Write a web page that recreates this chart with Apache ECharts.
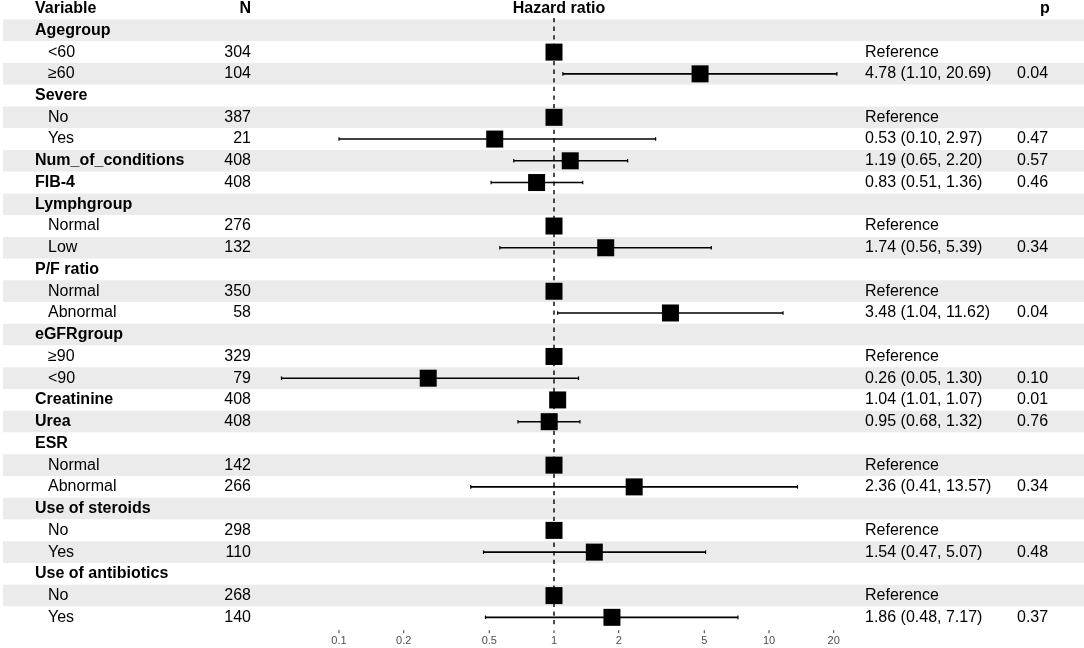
<!DOCTYPE html>
<html><head><meta charset="utf-8">
<script src="https://cdn.jsdelivr.net/npm/echarts@6/dist/echarts.min.js"></script>
<style>html,body{margin:0;padding:0;background:#fff}#chart{width:1084px;height:648px}</style>
</head><body><div id="chart"></div>
<script>
// ---------- data ----------
const headers = ['Variable', 'N', 'Hazard ratio', 'p'];
const rowLabels = ['Agegroup','<60','≥60','Severe','No','Yes','Num_of_conditions','FIB-4','Lymphgroup','Normal','Low','P/F ratio','Normal','Abnormal','eGFRgroup','≥90','<90','Creatinine','Urea','ESR','Normal','Abnormal','Use of steroids','No','Yes','Use of antibiotics','No','Yes'];
const rowIsGroup = [1,0,0,1,0,0,1,1,1,0,0,1,0,0,1,0,0,1,1,1,0,0,1,0,0,1,0,0];
const nValues = [null,304,104,null,387,21,408,408,null,276,132,null,350,58,null,329,79,408,408,null,142,266,null,298,110,null,268,140];
const hazardRatio = [null,1,4.78,null,1,0.53,1.19,0.83,null,1,1.74,null,1,3.48,null,1,0.26,1.04,0.95,null,1,2.36,null,1,1.54,null,1,1.86];
const ciLower = [null,null,1.10,null,null,0.10,0.65,0.51,null,null,0.56,null,null,1.04,null,null,0.054,1.01,0.68,null,null,0.41,null,null,0.47,null,null,0.48];
const ciUpper = [null,null,20.69,null,null,2.97,2.20,1.36,null,null,5.39,null,null,11.62,null,null,1.30,1.07,1.32,null,null,13.57,null,null,5.07,null,null,7.17];
const pValues = [null,null,0.04,null,null,0.47,0.57,0.46,null,null,0.34,null,null,0.04,null,null,0.10,0.01,0.76,null,null,0.34,null,null,0.48,null,null,0.37];
const referenceValue = 1;
const tickValues = [0.1, 0.2, 0.5, 1, 2, 5, 10, 20];
const tickLabels = ['0.1', '0.2', '0.5', '1', '2', '5', '10', '20'];

// ---------- layout ----------
const TOP = 19.5, BOTTOM = 19.8;
const FONT = '"Liberation Sans", Arial, Helvetica, sans-serif';
const FS = 16;
const COL = { varX: 35, subX: 48, nX: 251, estX: 865, pX: 1017, hrCenter: 559, pHeadX: 1040 };

const cats = rowLabels.map((l, i) => String(i));
const tableData = rowLabels.map((lab, i) => {
  let est = '';
  if (hazardRatio[i] != null) {
    est = ciLower[i] == null ? 'Reference'
      : hazardRatio[i].toFixed(2) + ' (' + ciLower[i].toFixed(2) + ', ' + ciUpper[i].toFixed(2) + ')';
  }
  return [i, lab, nValues[i] == null ? '' : String(nValues[i]), est,
          pValues[i] == null ? '' : pValues[i].toFixed(2), rowIsGroup[i]];
});
const forestData = rowLabels.map((l, i) => [i, hazardRatio[i], ciLower[i], ciUpper[i]]);

function txt(x, y, text, align, bold, size, color) {
  return { type: 'text', style: { x: x, y: y, text: text, align: align, verticalAlign: 'middle',
    font: (bold ? 'bold ' : '') + (size || FS) + 'px ' + FONT, fill: color || '#000' } };
}

const chart = echarts.init(document.getElementById('chart'), null, { renderer: 'canvas' });
chart.setOption({
  animation: false,
  backgroundColor: '#fff',
  grid: [
    { left: 3, right: 0, top: TOP, bottom: BOTTOM },
    { left: 124, width: 860, top: TOP, bottom: BOTTOM }
  ],
  xAxis: [
    { gridIndex: 0, type: 'value', min: 3, max: 1084, show: true,
      axisLine: { show: false }, axisTick: { show: false }, axisLabel: { show: false }, splitLine: { show: false } },
    { gridIndex: 1, type: 'log', logBase: 10, min: 0.01, max: 100, show: true,
      axisLine: { show: false }, axisTick: { show: false }, axisLabel: { show: false }, splitLine: { show: false } }
  ],
  yAxis: [
    { gridIndex: 0, type: 'category', data: cats, inverse: true, show: true,
      axisLine: { show: false }, axisTick: { show: false }, axisLabel: { show: false }, splitLine: { show: false },
      splitArea: { show: true, areaStyle: { color: ['#EBEBEB', '#FFFFFF'] } } },
    { gridIndex: 1, type: 'category', data: cats, inverse: true, show: true,
      axisLine: { show: false }, axisTick: { show: false }, axisLabel: { show: false }, splitLine: { show: false } }
  ],
  graphic: [
    txt(COL.varX, 9, headers[0], 'left', true),
    txt(COL.nX, 9, headers[1], 'right', true),
    txt(COL.hrCenter, 9, headers[2], 'center', true),
    txt(COL.pHeadX, 9, headers[3], 'left', true)
  ],
  series: [
    { // table text
      type: 'custom', xAxisIndex: 0, yAxisIndex: 0, silent: true, z: 5,
      data: tableData,
      renderItem: function (params, api) {
        const d = tableData[params.dataIndex];
        const y = api.coord([COL.varX, d[0]])[1];
        const bold = d[5] === 1;
        const kids = [];
        const lx = bold ? COL.varX : COL.subX;
        kids.push(txt(api.coord([lx, d[0]])[0], y, d[1], 'left', bold));
        if (d[2]) kids.push(txt(api.coord([COL.nX, d[0]])[0], y, d[2], 'right', false));
        if (d[3]) kids.push(txt(api.coord([COL.estX, d[0]])[0], y, d[3], 'left', false));
        if (d[4]) kids.push(txt(api.coord([COL.pX, d[0]])[0], y, d[4], 'left', false));
        return { type: 'group', children: kids };
      }
    },
    { // reference dashed line
      type: 'custom', xAxisIndex: 1, yAxisIndex: 1, silent: true, z: 6,
      data: [[referenceValue]],
      renderItem: function (params, api) {
        const cs = params.coordSys;
        const x = api.coord([referenceValue, 0])[0];
        return { type: 'line', shape: { x1: x, y1: cs.y - 1.5, x2: x, y2: cs.y + cs.height },
          style: { stroke: '#000', lineWidth: 1.4, lineDash: [4.3, 4.3] } };
      }
    },
    { // CI lines and squares
      type: 'custom', xAxisIndex: 1, yAxisIndex: 1, silent: true, z: 7,
      data: forestData,
      renderItem: function (params, api) {
        const d = forestData[params.dataIndex];
        if (d[1] == null) return null;
        const kids = [];
        const c = api.coord([d[1], d[0]]);
        if (d[2] != null) {
          const a = api.coord([d[2], d[0]]);
          const b = api.coord([d[3], d[0]]);
          kids.push({ type: 'line', shape: { x1: a[0], y1: a[1], x2: b[0], y2: b[1] }, style: { stroke: '#000', lineWidth: 1.6 } });
          kids.push({ type: 'line', shape: { x1: a[0], y1: a[1] - 1.8, x2: a[0], y2: a[1] + 1.8 }, style: { stroke: '#000', lineWidth: 1.2 } });
          kids.push({ type: 'line', shape: { x1: b[0], y1: b[1] - 1.8, x2: b[0], y2: b[1] + 1.8 }, style: { stroke: '#000', lineWidth: 1.2 } });
        }
        const s = 17;
        kids.push({ type: 'rect', shape: { x: c[0] - s / 2, y: c[1] - s / 2, width: s, height: s }, style: { fill: '#000' } });
        return { type: 'group', children: kids };
      }
    },
    { // x-axis tick marks and labels
      type: 'custom', xAxisIndex: 1, yAxisIndex: 1, silent: true, z: 8,
      data: tickValues.map((v, i) => [v, i]),
      renderItem: function (params, api) {
        const cs = params.coordSys;
        const i = params.dataIndex;
        const x = api.coord([tickValues[i], 0])[0];
        const y0 = cs.y + cs.height;
        return { type: 'group', children: [
          { type: 'line', shape: { x1: x, y1: y0 + 2, x2: x, y2: y0 + 5 }, style: { stroke: '#333', lineWidth: 1 } },
          txt(x, y0 + 13, tickLabels[i], 'center', false, 11, '#4D4D4D')
        ] };
      }
    }
  ]
});
</script>
</body></html>
